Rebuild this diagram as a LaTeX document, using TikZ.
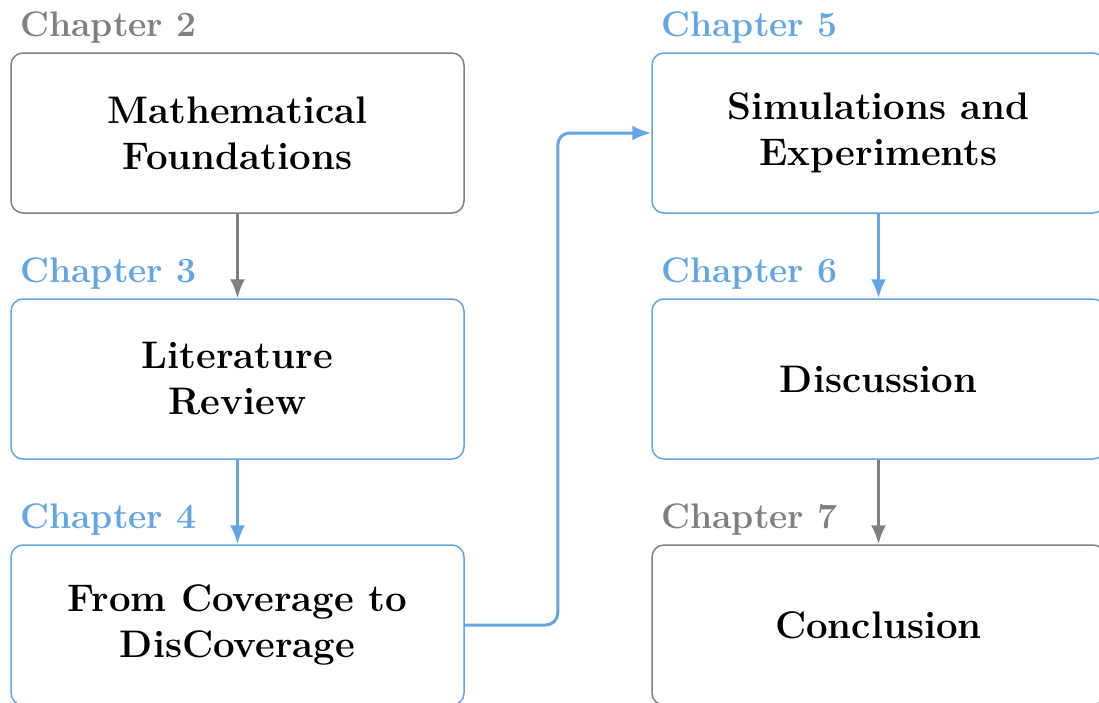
\documentclass[tikz,border=0pt]{standalone}
\usepackage{fontspec}
\usetikzlibrary{arrows.meta}

\definecolor{chapblue}{RGB}{98,166,230}
\definecolor{chapgray}{RGB}{128,128,128}

\newcommand{\boxfont}{\fontsize{38.4}{46}\selectfont\bfseries}
\newcommand{\labfont}{\fontsize{35.5}{40}\selectfont\bfseries}

\begin{document}
\begin{tikzpicture}[x=1pt,y=-1pt,
  chapbox/.style={draw, rounded corners=12pt, line width=1.5pt,
    minimum width=453pt, minimum height=160pt, align=center,
    inner sep=0pt, font=\boxfont, text=black},
  chaplabel/.style={inner sep=0pt, anchor=base west, font=\labfont},
  flow/.style={line width=2.8pt, -{Latex[length=19pt,width=15pt]}},
  jump/.style={line width=3pt, rounded corners=12pt, -{Latex[length=19pt,width=15pt]}}
]
\useasboundingbox (0,0) rectangle (1099,702);

% left column
\node[chapbox, draw=chapgray] (n2) at (237.5,133) {Mathematical\\Foundations};
\node[chapbox, draw=chapblue] (n3) at (237.5,379) {Literature\\Review};
\node[chapbox, draw=chapblue] (n4) at (237.5,625) {From Coverage to\\DisCoverage};

% right column
\node[chapbox, draw=chapblue] (n5) at (878.5,133) {Simulations and\\Experiments};
\node[chapbox, draw=chapblue] (n6) at (878.5,379) {Discussion};
\node[chapbox, draw=chapgray] (n7) at (878.5,625) {Conclusion};

% chapter labels
\node[chaplabel, text=chapgray] (l2) at ([xshift=10pt,yshift=16pt]n2.north west) {Chapter 2};
\node[chaplabel, text=chapblue] (l3) at ([xshift=10pt,yshift=16pt]n3.north west) {Chapter 3};
\node[chaplabel, text=chapblue] (l4) at ([xshift=10pt,yshift=16pt]n4.north west) {Chapter 4};
\node[chaplabel, text=chapblue] (l5) at ([xshift=10pt,yshift=16pt]n5.north west) {Chapter 5};
\node[chaplabel, text=chapblue] (l6) at ([xshift=10pt,yshift=16pt]n6.north west) {Chapter 6};
\node[chaplabel, text=chapgray] (l7) at ([xshift=10pt,yshift=16pt]n7.north west) {Chapter 7};

% connectors
\draw[flow, chapgray] (n2.south) -- (n3.north);
\draw[flow, chapblue] (n3.south) -- (n4.north);
\draw[jump, chapblue] (n4.east) -- ([xshift=93pt]n4.east) |- (n5.west);
\draw[flow, chapblue] (n5.south) -- (n6.north);
\draw[flow, chapgray] (n6.south) -- (n7.north);
\end{tikzpicture}
\end{document}
